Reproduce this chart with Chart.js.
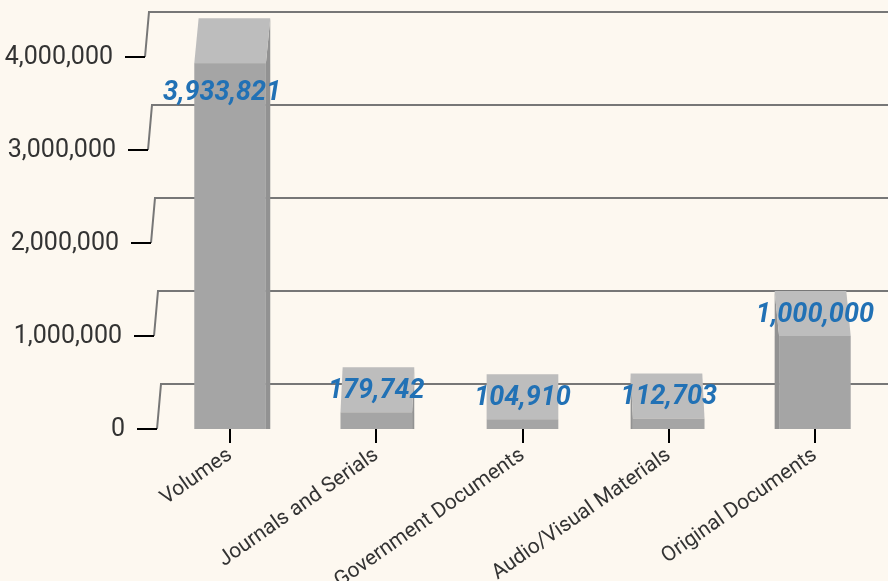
<!DOCTYPE html>
<html>
<head>
<meta charset="utf-8">
<script src="https://cdn.jsdelivr.net/npm/chart.js@4"></script>
<style>
  html, body { margin: 0; padding: 0; background: #fdf8f0; }
  #wrap { width: 888px; height: 581px; position: relative; }
</style>
</head>
<body>
<div id="wrap"><canvas id="chart"></canvas></div>
<script>
const categories = ['Volumes', 'Journals and Serials', 'Government Documents', 'Audio/Visual Materials', 'Original Documents'];
const holdings = [3933821, 179742, 104910, 112703, 1000000];
const yTicks = [0, 1000000, 2000000, 3000000, 4000000];

const DEPTH = 45;        // how far the back wall sits above the front
const VANISH_X = 520;    // vanishing point for the side faces

function fmt(v) {
    return v.toLocaleString('en-US');
}

// gridlines drawn as steps: tick, slanted riser, then line on back wall
const wallGrid = {
    id: 'wallGrid',
    beforeDatasetsDraw(chart) {
        const ctx = chart.ctx;
        const y = chart.scales.y;
        const area = chart.chartArea;
        ctx.save();
        yTicks.forEach(v => {
            const py = y.getPixelForValue(v);
            const i = (y.max - v) / 1000000;     // 0 at top
            const start = area.left - 32 + 3 * i;
            const end = start + 20;
            // slanted riser + back line
            ctx.strokeStyle = '#777777';
            ctx.lineWidth = 2;
            ctx.beginPath();
            ctx.moveTo(end, py);
            ctx.lineTo(end + 4, py - DEPTH);
            ctx.lineTo(chart.width, py - DEPTH);
            ctx.stroke();
            // tick
            ctx.strokeStyle = '#000000';
            ctx.beginPath();
            ctx.moveTo(start, py);
            ctx.lineTo(end, py);
            ctx.stroke();
            // label
            ctx.fillStyle = '#333333';
            ctx.font = '25px Roboto';
            ctx.textAlign = 'right';
            ctx.textBaseline = 'middle';
            ctx.fillText(fmt(v), start - 12, py + 1);
        });
        ctx.restore();
    },
    afterDatasetsDraw(chart) {
        const ctx = chart.ctx;
        const meta = chart.getDatasetMeta(0);
        ctx.save();
        meta.data.forEach((bar, idx) => {
            const w = bar.width;
            const xl = bar.x - w / 2;
            const xr = bar.x + w / 2;
            const top = bar.y;
            const base = bar.base;
            const dx = (VANISH_X - bar.x) * 0.015;

            // side face
            ctx.fillStyle = '#929292';
            ctx.beginPath();
            if (dx > 0) {
                ctx.moveTo(xr, top);
                ctx.lineTo(xr + dx, top - DEPTH);
                ctx.lineTo(xr + dx, base);
                ctx.lineTo(xr, base);
            } else {
                ctx.moveTo(xl, top);
                ctx.lineTo(xl + dx, top - DEPTH);
                ctx.lineTo(xl + dx, base);
                ctx.lineTo(xl, base);
            }
            ctx.closePath();
            ctx.fill();

            // top face
            ctx.fillStyle = '#bdbdbd';
            ctx.beginPath();
            ctx.moveTo(xl, top);
            ctx.lineTo(xr, top);
            ctx.lineTo(xr + dx, top - DEPTH);
            ctx.lineTo(xl + dx, top - DEPTH);
            ctx.closePath();
            ctx.fill();

            // front face
            ctx.fillStyle = '#a5a5a5';
            ctx.fillRect(xl, top, w, base - top);

            // value label
            let ly = top - 21;
            if (ly < 60) ly = top + 30;
            ctx.fillStyle = '#2171b5';
            ctx.font = 'italic bold 27px Roboto';
            ctx.textAlign = 'center';
            ctx.textBaseline = 'middle';
            ctx.fillText(fmt(holdings[idx]), idx === 0 ? bar.x - 8 : bar.x, ly);
        });
        ctx.restore();
    }
};

new Chart(document.getElementById('chart'), {
    type: 'bar',
    data: {
        labels: categories,
        datasets: [{
            data: holdings,
            backgroundColor: 'rgba(0,0,0,0)',
            borderWidth: 0,
            categoryPercentage: 1,
            barPercentage: 0.49
        }]
    },
    options: {
        responsive: true,
        maintainAspectRatio: false,
        animation: false,
        layout: { padding: { top: 57, left: 157, right: 0, bottom: 0 } },
        plugins: {
            legend: { display: false },
            tooltip: { enabled: false }
        },
        scales: {
            y: {
                display: false,
                min: 0,
                max: 4000000
            },
            x: {
                border: { display: false },
                grid: {
                    offset: false,
                    drawOnChartArea: false,
                    color: '#000000',
                    lineWidth: 2,
                    tickLength: 14
                },
                ticks: {
                    color: '#333333',
                    font: { family: 'Roboto', size: 21 },
                    minRotation: 35,
                    maxRotation: 35,
                    autoSkip: false,
                    padding: 0
                },
                afterFit(scale) {
                    scale.height = 152;
                }
            }
        }
    },
    plugins: [wallGrid]
});
</script>
</body>
</html>
